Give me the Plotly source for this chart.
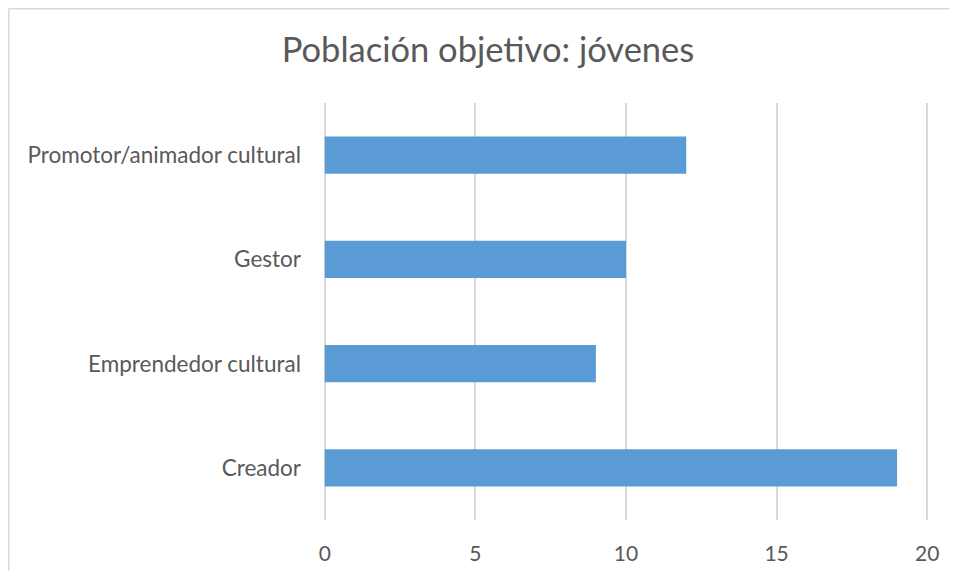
import plotly.graph_objects as go

categories = ["Creador", "Emprendedor cultural", "Gestor", "Promotor/animador cultural"]
values = [19, 9, 10, 12]
x_ticks = [0, 5, 10, 15, 20]
title_text = "Población objetivo: jóvenes"

# page has an 8px body margin on every side, so the figure sits at (8, 8)
OFF = 8
W, H = 957 - 2 * OFF, 579 - 2 * OFF
PLOT_L, PLOT_R, PLOT_T, PLOT_B = 323, 929, 103, 520  # page pixels of the plot area
L, T = PLOT_L - OFF, PLOT_T - OFF
R, B = W - (PLOT_R - OFF), H - (PLOT_B - OFF)
pw, ph = W - L - R, H - T - B

fig = go.Figure(go.Bar(
    y=categories, x=values, orientation="h",
    marker=dict(color="#5B9BD5", line=dict(width=0)),
))

def fx(p):  # figure pixel -> paper x
    return (p - L) / pw

def fy(p):  # figure pixel -> paper y
    return 1 - (p - T) / ph

# chart-area border: only its top and left edges are visible in the frame
border = dict(color="#D9D9D9", width=1.5)
fig.add_shape(type="line", xref="paper", yref="paper",
              x0=fx(0.75), x1=fx(W), y0=fy(0.75), y1=fy(0.75), line=border, layer="below")
fig.add_shape(type="line", xref="paper", yref="paper",
              x0=fx(0.75), x1=fx(0.75), y0=fy(0.75), y1=fy(H), line=border, layer="below")

fig.update_layout(
    width=W, height=H,
    margin=dict(l=L, r=R, t=T, b=B, autoexpand=False),
    paper_bgcolor="white", plot_bgcolor="white",
    font=dict(family="Lato", color="#595959", size=22),
    title=dict(text=title_text, x=(488 - OFF) / W, xanchor="center", y=1 - (50 - OFF) / H, yanchor="middle",
               font=dict(size=34.5, color="#595959", family="Lato")),
    bargap=0.645,
    showlegend=False,
    xaxis=dict(range=[-0.06, 20.06], tickvals=x_ticks, showgrid=True, gridcolor="#D9D9D9", gridwidth=1.5,
               zeroline=False, showline=False, ticks="", ticklabelstandoff=19, automargin=False,
               tickfont=dict(size=21)),
    yaxis=dict(categoryorder="array", categoryarray=categories, showgrid=False, zeroline=False,
               showline=False, ticks="", ticklabelstandoff=21, automargin=False,
               tickfont=dict(size=22.5)),
)
fig.write_html("out.html")
